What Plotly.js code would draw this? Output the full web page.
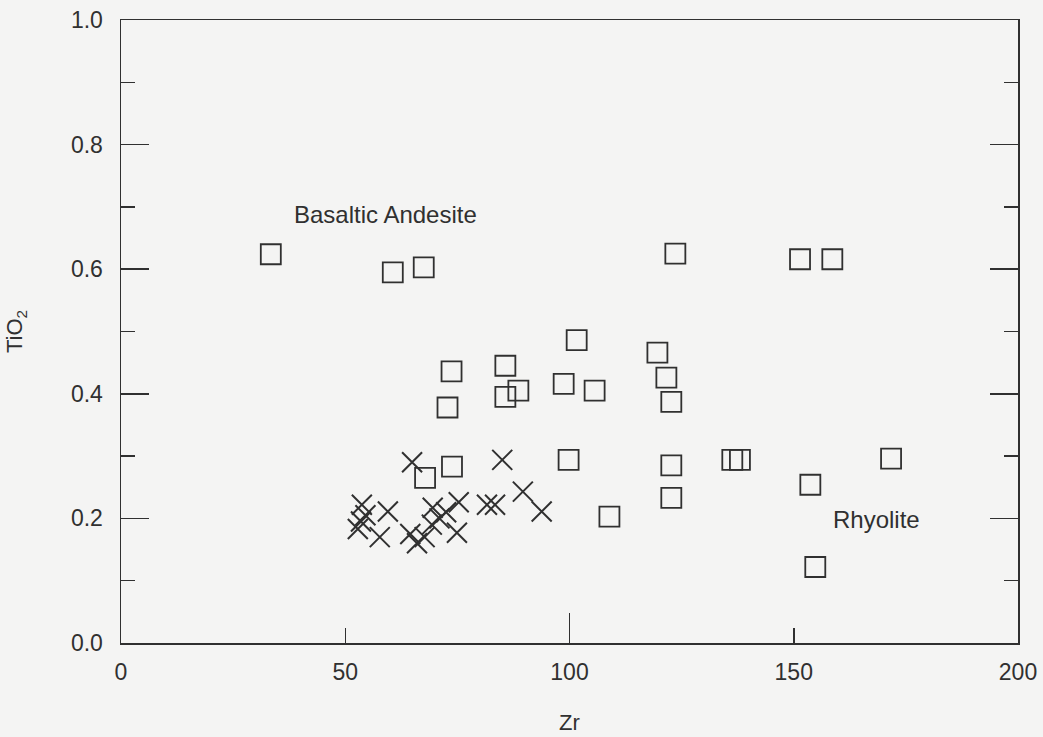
<!DOCTYPE html>
<html>
<head>
<meta charset="utf-8">
<script src="https://cdn.plot.ly/plotly-3.0.1.min.js"></script>
<style>html,body{margin:0;padding:0;background:#f4f4f3;}</style>
</head>
<body>
<div id="chart" style="width:1043px;height:737px;"></div>
<script>
// Squares (open)
const squareZr = [33.4, 60.6, 67.5, 101.6, 73.7, 85.7, 88.6, 85.7, 98.7, 105.6, 72.8,
  123.6, 151.4, 158.6, 119.6, 121.6, 122.7, 99.8, 122.7, 136.3, 138.0, 171.7,
  153.7, 122.7, 108.9, 154.8, 73.8, 67.8];
const squareTiO2 = [0.624, 0.595, 0.603, 0.486, 0.436, 0.445, 0.405, 0.395, 0.416, 0.405, 0.378,
  0.625, 0.616, 0.616, 0.466, 0.426, 0.387, 0.294, 0.285, 0.294, 0.294, 0.296,
  0.254, 0.233, 0.203, 0.122, 0.283, 0.265];
// Crosses
const crossZr = [64.9, 85.0, 53.7, 59.5, 53.5, 52.8, 57.7, 64.5, 66.0, 69.5, 69.3,
  67.7, 72.5, 75.3, 74.9, 81.6, 83.4, 89.6, 93.8, 71.0, 54.5];
const crossTiO2 = [0.290, 0.294, 0.222, 0.211, 0.195, 0.183, 0.170, 0.175, 0.160, 0.217, 0.190,
  0.170, 0.210, 0.226, 0.177, 0.222, 0.222, 0.243, 0.211, 0.200, 0.205];
const xTickVals = [0, 50, 100, 150, 200];
const xTickText = ['0', '50', '100', '150', '200'];
const yTickVals = [0.0, 0.2, 0.4, 0.6, 0.8, 1.0];
const yTickText = ['0.0', '0.2', '0.4', '0.6', '0.8', '1.0'];
const labels = [
  {text: 'Basaltic Andesite', x: 59, y: 0.688},
  {text: 'Rhyolite', x: 168.5, y: 0.198}
];

const ink = '#303030';
const font = 'Liberation Sans, Arial, sans-serif';

const traces = [
  {x: squareZr, y: squareTiO2, type: 'scatter', mode: 'markers',
   marker: {symbol: 'square-open', size: 20, color: ink, line: {width: 1.8, color: ink}},
   showlegend: false, hoverinfo: 'x+y'},
  {x: crossZr, y: crossTiO2, type: 'scatter', mode: 'markers',
   marker: {symbol: 'x-thin-open', size: 20, color: ink, line: {width: 2, color: ink}},
   showlegend: false, hoverinfo: 'x+y'},
  {x: [0, 200], y: [0, 0], xaxis: 'x2', type: 'scatter', mode: 'markers',
   marker: {opacity: 0}, showlegend: false, hoverinfo: 'skip'}
];

const layout = {
  width: 1043, height: 737,
  paper_bgcolor: '#f4f4f3', plot_bgcolor: '#f4f4f3',
  margin: {l: 121, r: 25, t: 20, b: 94},
  font: {family: font, size: 23, color: ink},
  showlegend: false,
  xaxis: {
    range: [0, 200], tickvals: xTickVals, ticktext: xTickText,
    ticks: 'inside', ticklen: 15, tickwidth: 1.5, tickcolor: ink,
    showline: true, linecolor: ink, linewidth: 1.5, mirror: true,
    showgrid: false, zeroline: false,
    tickfont: {family: font, size: 23, color: ink},
    ticklabelstandoff: 8,
    title: {text: 'Zr', font: {family: font, size: 22, color: ink}, standoff: 30}
  },
  xaxis2: {
    range: [0, 200], overlaying: 'x', anchor: 'y', side: 'bottom',
    tickvals: [0, 100, 200], ticks: 'inside', ticklen: 30, tickwidth: 1.5, tickcolor: ink,
    showticklabels: false, showline: false, showgrid: false, zeroline: false
  },
  yaxis: {
    range: [0, 1], tickvals: yTickVals, ticktext: yTickText,
    ticks: 'inside', ticklen: 28, tickwidth: 1.5, tickcolor: ink,
    minor: {dtick: 0.1, tick0: 0, ticks: 'inside', ticklen: 14, tickwidth: 1.5, tickcolor: ink, showgrid: false},
    showline: true, linecolor: ink, linewidth: 1.5, mirror: 'ticks',
    showgrid: false, zeroline: false,
    tickfont: {family: font, size: 23, color: ink},
    ticklabelstandoff: 12,
    title: {text: 'TiO<sub>2</sub>', font: {family: font, size: 22, color: ink}, standoff: 42}
  },
  annotations: labels.map(l => ({
    text: l.text, x: l.x, y: l.y, xref: 'x', yref: 'y', showarrow: false,
    font: {family: font, size: 24, color: ink}
  }))
};

Plotly.newPlot('chart', traces, layout, {displayModeBar: false, staticPlot: true});
</script>
</body>
</html>
